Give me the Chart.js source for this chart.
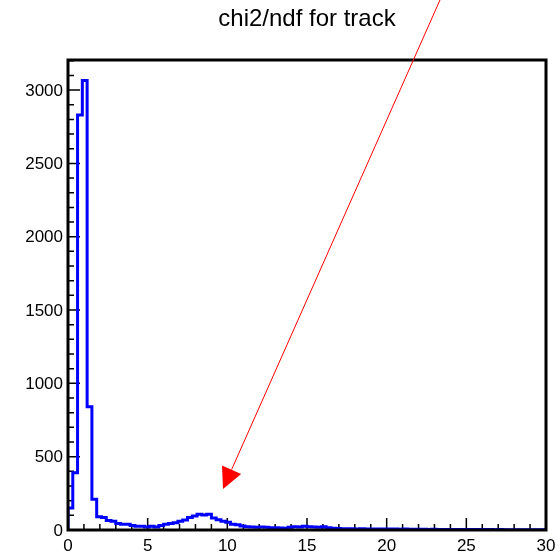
<!DOCTYPE html>
<html>
<head>
<meta charset="utf-8">
<title>chi2/ndf for track</title>
<script src="https://cdn.jsdelivr.net/npm/chart.js@4.4.0/dist/chart.umd.min.js"></script>
<style>
  body { margin: 0; background: #fff; }
  canvas { display: block; }
</style>
</head>
<body>
<canvas id="chi2Chart" width="560" height="553"></canvas>
<script>
// histogram: 100 bins of 0.3 from 0 to 30
const titleText = "chi2/ndf for track";
const xMin = 0, xMax = 30, binWidth = 0.3;
const yMin = 0, yMax = 3205;
const binCounts = [
  150, 390, 2830, 3065, 840, 210, 90, 85, 65, 60,
  45, 40, 40, 30, 25, 25, 20, 25, 20, 30,
  40, 45, 50, 60, 68, 85, 95, 108, 103, 108,
  82, 70, 60, 52, 40, 35, 27, 22, 20, 18,
  20, 18, 15, 15, 14, 12, 18, 22, 20, 25,
  22, 20, 18, 22, 15, 12, 10, 9, 8, 8,
  7, 8, 7, 7, 6, 7, 6, 6, 6, 5,
  6, 5, 5, 5, 5, 4, 5, 4, 4, 4,
  4, 3, 4, 3, 3, 3, 3, 3, 3, 2,
  3, 2, 2, 2, 2, 2, 2, 2, 2, 2
];
const xTickLabels = [0, 5, 10, 15, 20, 25, 30];
const yTickLabels = [0, 500, 1000, 1500, 2000, 2500, 3000];
// red arrow, in data coordinates (starts above the frame)
const arrowStart = { x: 23.35, y: 3615 };
const arrowEnd = { x: 9.73, y: 280 };

// outline: one point at each bin's right edge; 'after' steps up at the left edge
const outline = [{ x: xMin, y: 0 }];
binCounts.forEach((c, i) => outline.push({ x: xMin + (i + 1) * binWidth, y: c }));
outline.push({ x: xMax, y: 0 });

const axisFont = "17px 'Liberation Sans', Arial, sans-serif";

// ROOT-like frame, inward ticks, labels, title and arrow
const rootFrame = {
  id: "rootFrame",
  beforeDatasetsDraw(chart) {
    const { ctx, chartArea: a, scales: { x, y } } = chart;
    ctx.save();
    ctx.strokeStyle = "#000";
    ctx.lineWidth = 1.5;
    ctx.beginPath();
    for (let v = 0; v <= yMax; v += 100) {
      const py = y.getPixelForValue(v);
      const len = v % 500 === 0 ? 12 : 6;
      ctx.moveTo(a.left, py);
      ctx.lineTo(a.left + len, py);
    }
    for (let v = xMin; v <= xMax; v += 1) {
      const px = x.getPixelForValue(v);
      const len = v % 5 === 0 ? 12 : 6;
      ctx.moveTo(px, a.bottom);
      ctx.lineTo(px, a.bottom - len);
    }
    ctx.stroke();

    ctx.fillStyle = "#000";
    ctx.font = axisFont;
    ctx.textAlign = "right";
    ctx.textBaseline = "middle";
    yTickLabels.forEach(v => ctx.fillText(String(v), a.left - 5, y.getPixelForValue(v) + 1));
    ctx.textAlign = "center";
    xTickLabels.forEach(v => ctx.fillText(String(v), x.getPixelForValue(v), a.bottom + 16));

    ctx.font = "24px 'Liberation Sans', Arial, sans-serif";
    ctx.textBaseline = "middle";
    ctx.fillText(titleText, (a.left + a.right) / 2, 19);
    ctx.restore();
  },
  afterDraw(chart) {
    const { ctx, chartArea: a, scales: { x, y } } = chart;
    ctx.save();
    ctx.strokeStyle = "#000";
    ctx.lineWidth = 3;
    ctx.strokeRect(a.left, a.top, a.right - a.left, a.bottom - a.top);

    const x0 = x.getPixelForValue(arrowStart.x), y0 = y.getPixelForValue(arrowStart.y);
    const x1 = x.getPixelForValue(arrowEnd.x), y1 = y.getPixelForValue(arrowEnd.y);
    const ang = Math.atan2(y1 - y0, x1 - x0);
    const headLen = 21, headHalf = 10.5;
    const bx = x1 - headLen * Math.cos(ang), by = y1 - headLen * Math.sin(ang);
    ctx.strokeStyle = "#ff0000";
    ctx.fillStyle = "#ff0000";
    ctx.lineWidth = 1;
    ctx.beginPath();
    ctx.moveTo(x0, y0);
    ctx.lineTo(bx, by);
    ctx.stroke();
    ctx.beginPath();
    ctx.moveTo(x1, y1);
    ctx.lineTo(bx + headHalf * Math.sin(ang), by - headHalf * Math.cos(ang));
    ctx.lineTo(bx - headHalf * Math.sin(ang), by + headHalf * Math.cos(ang));
    ctx.closePath();
    ctx.fill();
    ctx.restore();
  }
};

new Chart(document.getElementById("chi2Chart"), {
  type: "line",
  data: {
    datasets: [{
      label: titleText,
      data: outline,
      stepped: "after",
      borderColor: "#0000ff",
      borderWidth: 3,
      pointRadius: 0,
      fill: false,
      tension: 0
    }]
  },
  options: {
    responsive: false,
    animation: false,
    layout: { padding: { left: 68, right: 14, top: 60, bottom: 23 } },
    plugins: { legend: { display: false }, tooltip: { enabled: false }, title: { display: false } },
    scales: {
      x: { type: "linear", min: xMin, max: xMax, display: false },
      y: { type: "linear", min: yMin, max: yMax, display: false }
    }
  },
  plugins: [rootFrame]
});
</script>
</body>
</html>
